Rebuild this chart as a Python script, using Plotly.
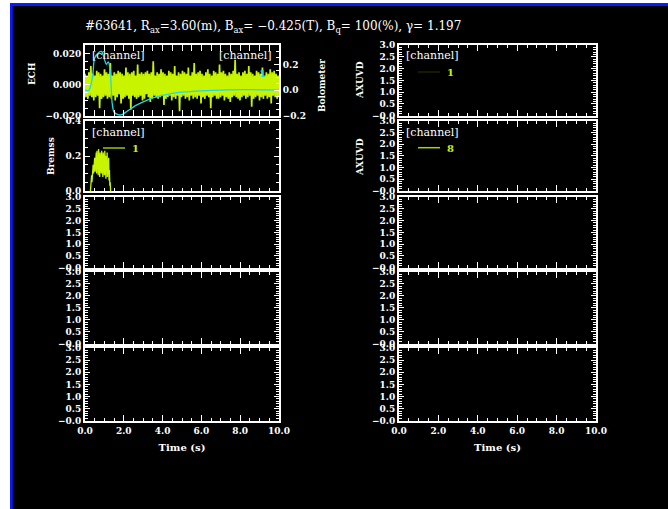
import plotly.graph_objects as go

W, H = 668, 509

# ---------------- data ----------------
TITLE = ("#63641, R<sub>ax</sub>=3.60(m), B<sub>ax</sub>= \u22120.425(T), "
         "B<sub>q</sub>= 100(%), \u03b3= 1.197")

TIME_TICKS = [0, 2, 4, 6, 8, 10]
TIME_TICK_TEXT = ["0.0", "2.0", "4.0", "6.0", "8.0", "10.0"]

# ECH signal (units of 1e-3), uniformly sampled over 0..10 s
ECH_T_START, ECH_T_END = 0.0, 10.0
ECH_MILLI = [
    7, -8, 6, -9, 8, -7, 12, -8, 7, -10, 6, -8, 9, -7, 8, -15, 7, -9, 6, -8,
    10, -7, 8, -9, 7, -8, 14, -9, 6, -7, 8, -10, 7, -8, 9, -6, 8, -12, 7, -9,
    6, -8, 11, -7, 8, -9, 7, -16, 8, -7, 9, -8, 6, -9, 13, -8, 7, -7, 8, -10,
    7, -9, 8, -6, 9, -8, 7, -11, 8, -9, 15, -7, 6, -8, 8, -9, 7, -8, 10, -7,
    8, -13, 7, -9, 6, -8, 9, -7, 8, -10, 7, -8, 12, -9, 6, -7, 8, -17, 7, -8,
    9, -7, 8, -9, 7, -8, 11, -10, 6, -7, 8, -9, 14, -8, 7, -9, 8, -7, 9, -12,
    7, -8, 6, -9, 8, -7, 10, -8, 7, -15, 6, -8, 9, -7, 8, -9, 7, -9, 13, -8,
    8, -7, 9, -10, 7, -8, 6, -9, 8, -11, 7, -8, 9, -7, 16, -8, 7, -9, 8, -10,
    6, -8, 8, -7, 9, -9, 7, -8, 12, -7, 8, -14, 7, -9, 6, -8, 9, -7, 8, -10,
    7, -8, 11, -9, 6, -7, 8, -9, 7, -8, 10, -12, 8, -7, 9, -8, 7, -9, 6, -8,
]

# Bolometer channel 1
BOLO_T = [0.0, 0.2, 0.4, 0.5, 0.7, 0.85, 1.0, 1.1, 1.2, 1.3, 1.4, 1.5, 1.7,
          1.9, 2.2, 2.6, 3.0, 3.5, 4.0, 4.5, 5.0, 6.0, 7.0, 8.0, 9.0, 10.0]
BOLO_V = [0.0, 0.0, 0.12, 0.25, 0.29, 0.30, 0.24, 0.20, 0.22, 0.15, -0.10,
          -0.17, -0.19, -0.19, -0.16, -0.12, -0.09, -0.06, -0.04, -0.025,
          -0.015, -0.005, 0.0, 0.005, 0.003, 0.0]

# Bremss channel 1, uniformly sampled from 0.28 s to 1.32 s
BREMS_T_START, BREMS_T_END = 0.28, 1.32
BREMS_V = [0.0, 0.05, 0.02, 0.09, 0.05, 0.12, 0.08, 0.15, 0.10, 0.17, 0.12,
           0.19, 0.11, 0.20, 0.14, 0.22, 0.10, 0.23, 0.13, 0.20, 0.09, 0.24,
           0.12, 0.21, 0.08, 0.22, 0.14, 0.19, 0.10, 0.23, 0.12, 0.20, 0.08,
           0.22, 0.11, 0.21, 0.09, 0.23, 0.10, 0.18, 0.07, 0.20, 0.12, 0.22,
           0.08, 0.17, 0.10, 0.19, 0.06, 0.12, 0.03, 0.05, 0.0]

ECH_TICKS = [-0.02, 0.0, 0.02]
ECH_TICK_TEXT = ["\u22120.020", "0.000", "0.020"]
BOLO_TICKS = [-0.2, 0.0, 0.2]
BOLO_TICK_TEXT = ["\u22120.2", "0.0", "0.2"]
BREMS_TICKS = [0.0, 0.2, 0.4]
BREMS_TICK_TEXT = ["0.0", "0.2", "0.4"]
EMPTY_TICKS = [0.0, 0.5, 1.0, 1.5, 2.0, 2.5, 3.0]
EMPTY_TICK_TEXT = ["\u22120.0", "0.5", "1.0", "1.5", "2.0", "2.5", "3.0"]

# ---------------- helpers ----------------
def px(x):
    return x / W

def py(y):
    return 1 - y / H

FONT = "DejaVu Serif"
YG = "#c8f400"
CYAN = "#22d8e0"

def uniform(t0, t1, n):
    return [t0 + (t1 - t0) * i / (n - 1) for i in range(n)]

ech_t = uniform(ECH_T_START, ECH_T_END, len(ECH_MILLI))
ech_v = [v * 1e-3 for v in ECH_MILLI]
brems_t = uniform(BREMS_T_START, BREMS_T_END, len(BREMS_V))

COLS = [(85, 279), (399, 596)]
ROWS = [(45, 116), (121, 191), (197, 268), (272, 344), (348, 421)]

fig = go.Figure()

layout = dict(
    width=W, height=H, autosize=False,
    margin=dict(l=0, r=0, t=0, b=0, pad=0),
    paper_bgcolor="black", plot_bgcolor="rgba(0,0,0,0)",
    showlegend=False,
    font=dict(family=FONT, color="white", size=10),
)

tickfont = dict(family=FONT, color="white", size=9, weight="bold")

def axis_common():
    return dict(showline=True, linecolor="white", linewidth=2,
                ticks="inside", tickcolor="white", tickwidth=1.2,
                showgrid=False, zeroline=False, tickfont=tickfont,
                automargin=False)

k = 0
for c, (x0, x1) in enumerate(COLS):
    for r, (y0, y1) in enumerate(ROWS):
        k += 1
        xa = axis_common()
        xa.update(domain=[px(x0), px(x1)], anchor=f"y{k}", range=[0, 10],
                  tickvals=TIME_TICKS, ticktext=TIME_TICK_TEXT, ticklen=6,
                  mirror="allticks", showticklabels=(r == 4),
                  minor=dict(dtick=0.5, ticklen=3, ticks="inside",
                             tickcolor="white", tickwidth=1.2))
        ya = axis_common()
        ya.update(domain=[py(y1), py(y0)], anchor=f"x{k}", ticklen=5,
                  mirror="allticks")
        if c == 0 and r == 0:
            ya.update(range=[-0.02, 0.0255], tickvals=ECH_TICKS,
                      ticktext=ECH_TICK_TEXT, mirror=True,
                      minor=dict(dtick=0.005, ticklen=3, ticks="inside",
                                 tickcolor="white"))
        elif c == 0 and r == 1:
            ya.update(range=[0, 0.4], tickvals=BREMS_TICKS,
                      ticktext=BREMS_TICK_TEXT,
                      minor=dict(dtick=0.05, ticklen=3, ticks="inside",
                                 tickcolor="white"))
        else:
            ya.update(range=[-0.01, 3.0], tickvals=EMPTY_TICKS,
                      ticktext=EMPTY_TICK_TEXT,
                      minor=dict(dtick=0.1, ticklen=3, ticks="inside",
                                 tickcolor="white"))
        if r == 4:
            xa.update(title=dict(text="Time (s)",
                                 font=dict(family=FONT, color="white",
                                           size=10, weight="bold"),
                                 standoff=9))
        layout[f"xaxis{k}"] = xa
        layout[f"yaxis{k}"] = ya
        # empty trace so the subplot frame is drawn
        fig.add_trace(go.Scatter(x=[], y=[], mode="lines",
                                 xaxis=f"x{k}", yaxis=f"y{k}",
                                 hoverinfo="skip"))

# Bolometer secondary axis on the first left panel
yb = axis_common()
yb.update(overlaying="y", side="right", anchor="x", range=[-0.2, 0.35],
          tickvals=BOLO_TICKS, ticktext=BOLO_TICK_TEXT, ticklen=5,
          minor=dict(dtick=0.05, ticklen=3, ticks="inside", tickcolor="white"))
layout["yaxis11"] = yb

# ---------------- traces ----------------
fig.add_trace(go.Scatter(x=ech_t, y=ech_v, mode="lines", xaxis="x", yaxis="y",
                         line=dict(color=YG, width=1.7)))
fig.add_trace(go.Scatter(x=BOLO_T, y=BOLO_V, mode="lines", xaxis="x",
                         yaxis="y11", line=dict(color=CYAN, width=1.3,
                                                shape="spline")))
fig.add_trace(go.Scatter(x=brems_t, y=BREMS_V, mode="lines", xaxis="x2",
                         yaxis="y2", line=dict(color=YG, width=1.3)))

# ---------------- decoration ----------------
shapes = [
    # white outer margin, blue frame edge
    dict(type="rect", xref="paper", yref="paper", x0=0, x1=px(10),
         y0=0, y1=1, fillcolor="white", line=dict(width=0), layer="below"),
    dict(type="rect", xref="paper", yref="paper", x0=0, x1=1,
         y0=py(3.3), y1=1, fillcolor="white", line=dict(width=0),
         layer="below"),
    dict(type="rect", xref="paper", yref="paper", x0=px(10), x1=px(12.7),
         y0=0, y1=py(3.3), fillcolor="#0a1aff", line=dict(width=0),
         layer="below"),
    dict(type="rect", xref="paper", yref="paper", x0=px(10), x1=1,
         y0=py(6), y1=py(3.3), fillcolor="#0a1aff", line=dict(width=0),
         layer="below"),
    # legend lines
    dict(type="line", xref="paper", yref="paper", x0=px(103), x1=px(125),
         y0=py(148), y1=py(148), line=dict(color=YG, width=1.2)),
    dict(type="line", xref="paper", yref="paper", x0=px(418), x1=px(440),
         y0=py(72), y1=py(72), line=dict(color="#223000", width=1.2)),
    dict(type="line", xref="paper", yref="paper", x0=px(418), x1=px(440),
         y0=py(147.7), y1=py(147.7), line=dict(color="#a8d400", width=1.5)),
]
layout["shapes"] = shapes

def ann(text, x, y, xanchor="left", color="white", size=11, weight="normal",
        angle=0):
    return dict(text=text, x=px(x), y=py(y), xref="paper", yref="paper",
                xanchor=xanchor, yanchor="middle", showarrow=False,
                textangle=angle,
                font=dict(family=FONT, color=color, size=size, weight=weight))

annotations = [
    ann(TITLE, 83, 27, size=12),
    ann("[channel]", 90, 56, size=11),
    ann("[channel]", 274, 56, xanchor="right", size=11),
    ann("1", 257, 73, color=CYAN, size=10, weight="bold"),
    ann("[channel]", 90, 132.7, size=11),
    ann("1", 130, 148, color=YG, size=10, weight="bold"),
    ann("[channel]", 404, 56, size=11),
    ann("1", 445, 72, color=YG, size=10, weight="bold"),
    ann("[channel]", 404, 132.7, size=11),
    ann("8", 445, 148, color=YG, size=10, weight="bold"),
    ann("ECH", 32, 74, xanchor="center", size=9, weight="bold", angle=-90),
    ann("Bremss", 51, 156, xanchor="center", size=9, weight="bold",
        angle=-90),
    ann("Bolometer", 322, 86, xanchor="center", size=9, weight="bold",
        angle=-90),
    ann("AXUVD", 360, 80, xanchor="center", size=9, weight="bold",
        angle=-90),
    ann("AXUVD", 360, 157, xanchor="center", size=9, weight="bold",
        angle=-90),
]
layout["annotations"] = annotations

fig.update_layout(**layout)
fig.write_html(
    "out.html",
    config={"displayModeBar": False},
    post_script="document.body.style.margin='0px';"
                "document.body.style.overflow='hidden';",
)
